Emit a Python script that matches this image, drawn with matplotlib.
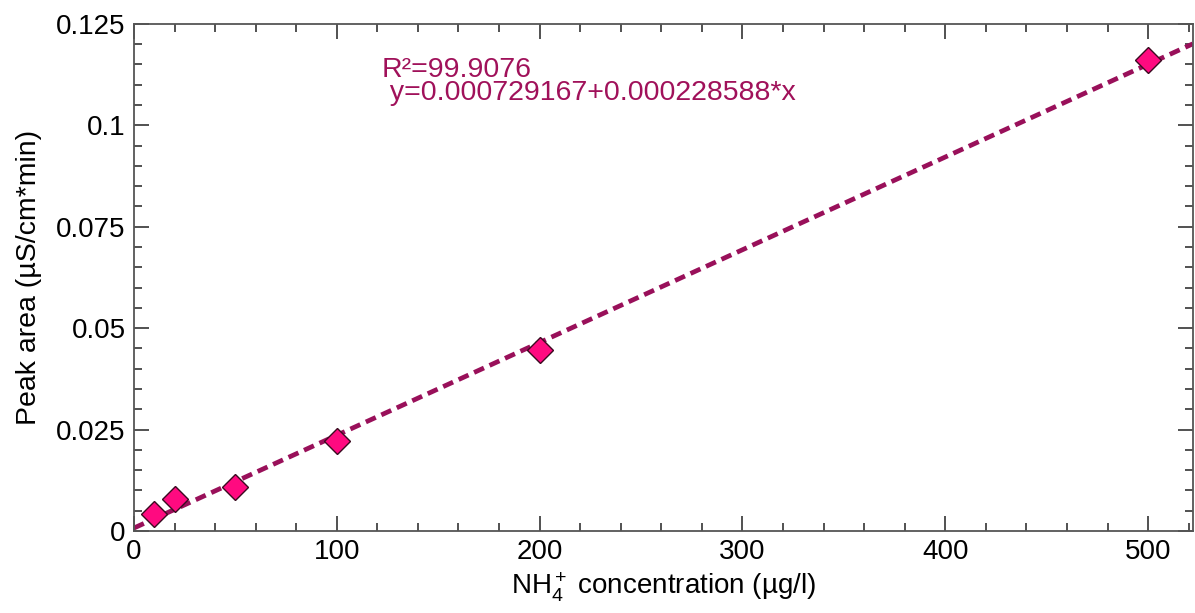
import numpy as np
import matplotlib
matplotlib.use('Agg')
import matplotlib.pyplot as plt
import matplotlib.ticker as ticker

plt.rcParams['font.family'] = ['Liberation Sans', 'DejaVu Sans']
plt.rcParams['mathtext.fontset'] = 'custom'
plt.rcParams['mathtext.rm'] = 'Liberation Sans'
plt.rcParams['mathtext.it'] = 'Liberation Sans:italic'

# calibration points
conc = [10, 20, 50, 100, 200, 500]
area = [0.0042, 0.0079, 0.0108, 0.0222, 0.0446, 0.1161]
intercept = 0.000729167
slope = 0.000228588
r2_text = 'R\u00b2=99.9076'
eq_text = ' y=0.000729167+0.000228588*x'

fig = plt.figure(figsize=(11.95, 6.13), dpi=100)
ax = fig.add_axes([0.1121, 0.1338, 0.886, 0.8274])

xl = np.array([0, 522])
ax.plot(xl, intercept + slope*xl, color='#99105a', lw=3.4,
        linestyle=(0, (2.3, 1.3)), zorder=2)
ax.plot(conc, area, 'D', ms=13.5, mfc='#ff0a80', mec='#3a0a20', mew=1.0,
        zorder=3)

ax.set_xlim(0, 522)
ax.set_ylim(0, 0.125)
ax.xaxis.set_major_locator(ticker.MultipleLocator(100))
ax.xaxis.set_minor_locator(ticker.MultipleLocator(20))
ax.yaxis.set_major_locator(ticker.FixedLocator([0, 0.025, 0.05, 0.075, 0.1, 0.125]))
ax.yaxis.set_major_formatter(ticker.FixedFormatter(['0', '0.025', '0.05', '0.075', '0.1', '0.125']))
ax.yaxis.set_minor_locator(ticker.MultipleLocator(0.005))
ax.tick_params(which='both', direction='in', top=True, right=True,
               color='#333333', width=1.2)
ax.tick_params(which='major', length=11, labelsize=20, pad=6)
ax.tick_params(which='minor', length=6)
for s in ax.spines.values():
    s.set_color('#555555')
    s.set_linewidth(1.3)

ax.set_xlabel('NH$_4^+$ concentration (\u00b5g/l)', fontsize=20, labelpad=4)
ax.set_ylabel('Peak area (\u00b5S/cm*min)', fontsize=20.5, labelpad=10)

ax.text(0.234, 0.896, r2_text, transform=ax.transAxes, fontsize=20.5,
        color='#a0115a', va='baseline')
ax.text(0.234, 0.849, eq_text, transform=ax.transAxes, fontsize=20.5,
        color='#a0115a', va='baseline')

fig.savefig('out.png', dpi=100)
